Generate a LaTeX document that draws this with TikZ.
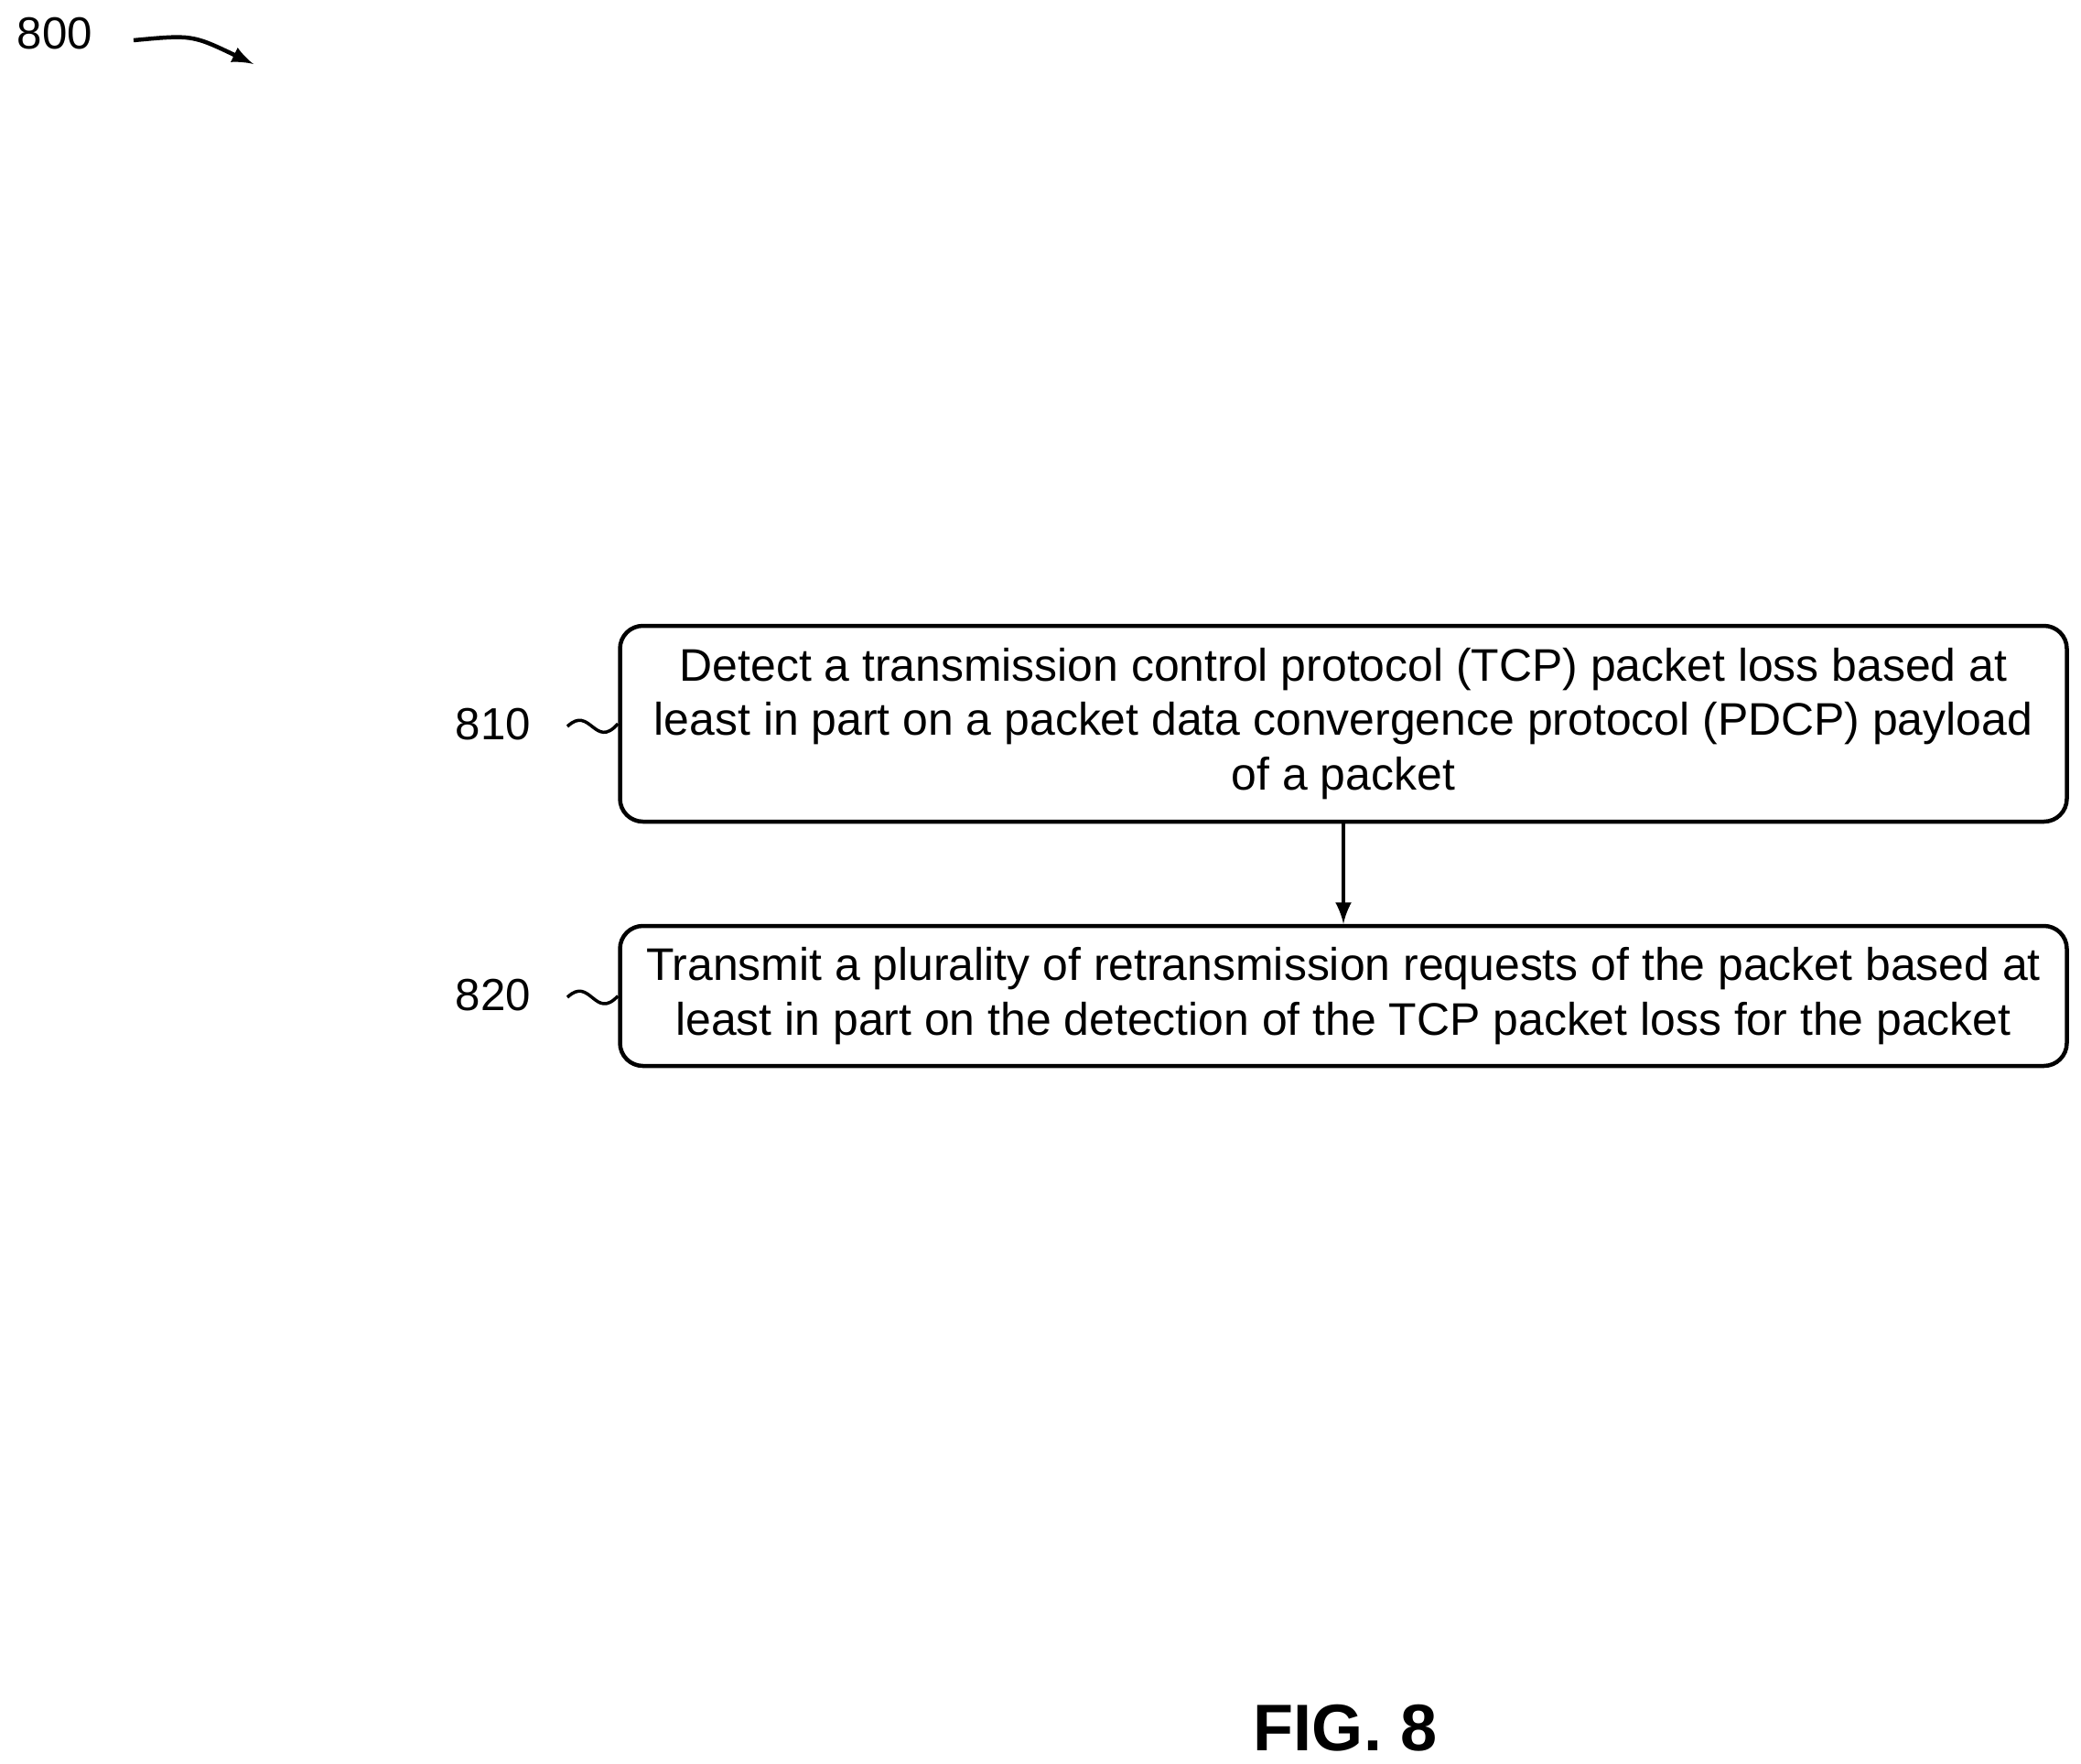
\documentclass[tikz,border=0pt]{standalone}
\usepackage{fontspec}
\setmainfont{Liberation Sans}
\usetikzlibrary{positioning}
\tikzset{
	step box/.style={draw, line width=0.45mm, rounded corners=2.5mm, minimum width=15.81cm, align=center, font=\fontsize{14.2}{17}\selectfont},
	ref label/.style={font=\fontsize{14}{17}\selectfont},
}
\begin{document}
\begin{tikzpicture}
	\useasboundingbox (0,0) rectangle (22.74,-19.28);
	
	\node[step box, minimum height=2.14cm] (s810) at (14.68,-7.91) {Detect a transmission control protocol (TCP) packet loss based at\\least in part on a packet data convergence protocol (PDCP) payload\\of a packet};
	\node[step box, minimum height=1.53cm] (s820) at (14.68,-10.885) {Transmit a plurality of retransmission requests of the packet based at\\least in part on the detection of the TCP packet loss for the packet};
	
	\draw[line width=0.45mm, -latex, >={latex}] (s810) -- (s820);
	
	\node[ref label] (l810) at (5.39,-7.92) {810};
	\node[ref label] (l820) at (5.39,-10.88) {820};
	\draw[line width=0.35mm] (6.2,-7.94) .. controls (6.45,-7.7) and (6.5,-8.2) .. (s810.west);
	\draw[line width=0.35mm] (6.2,-10.90) .. controls (6.45,-10.66) and (6.5,-11.16) .. (s820.west);
	
	\node[ref label] (l800) at (0.6,-0.37) {800};
	\coordinate (tip800) at (2.77,-0.70);
	\draw[line width=0.45mm, -latex] (1.46,-0.44) .. controls (2.1,-0.38) .. (tip800);
	
	\node[font=\bfseries\fontsize{20.5}{24}\selectfont] (fig) at (14.70,-18.89) {FIG. 8};
\end{tikzpicture}
\end{document}
